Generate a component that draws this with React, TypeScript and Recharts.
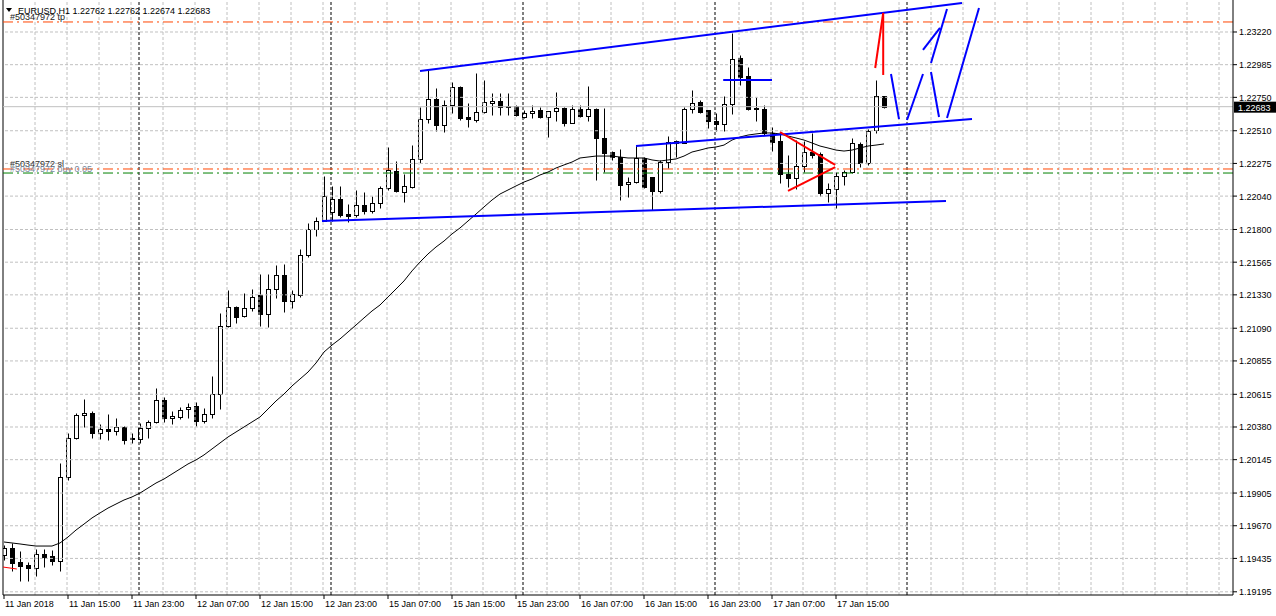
import React from 'react';
import { ComposedChart, Bar, Line, XAxis, YAxis, ReferenceLine } from 'recharts';

// ---- Data (bar 1 = 11 Jan 07:00, bar 111 = 17 Jan 21:00) ----
const opens = [
  1.19460, 1.19510, 1.19409, 1.19388, 1.19366, 1.19467, 1.19452, 1.19416, 1.20020, 1.20301,
  1.20466, 1.20481, 1.20337, 1.20365, 1.20351, 1.20380, 1.20301, 1.20294, 1.20373, 1.20416,
  1.20574, 1.20445, 1.20452, 1.20509, 1.20531, 1.20423, 1.20473, 1.20617, 1.21106, 1.21243,
  1.21178, 1.21235, 1.21329, 1.21192, 1.21372, 1.21473, 1.21286, 1.21329, 1.21617, 1.21803,
  1.21861, 1.21926, 1.22019, 1.21911, 1.21904, 1.21976, 1.21933, 1.21990, 1.22098, 1.22221,
  1.22070, 1.22105, 1.22307, 1.22594, 1.22738, 1.22551, 1.22695, 1.22824, 1.22609, 1.22587,
  1.22645, 1.22709, 1.22724, 1.22688, 1.22688, 1.22609, 1.22638, 1.22659, 1.22609, 1.22652,
  1.22673, 1.22566, 1.22666, 1.22616, 1.22666, 1.22458, 1.22357, 1.22321, 1.22127, 1.22141,
  1.22314, 1.22177, 1.22077, 1.22285, 1.22436, 1.22422, 1.22666, 1.22717, 1.22659, 1.22580,
  1.22558, 1.22702, 1.23033, 1.22904, 1.22673, 1.22666, 1.22494, 1.22436, 1.22199, 1.22170,
  1.22256, 1.22357, 1.22343, 1.22062, 1.22091, 1.22185, 1.22213, 1.22415, 1.22278, 1.22515,
  1.22762,
];
const highs = [
  1.19531, 1.19546, 1.19488, 1.19409, 1.19503, 1.19503, 1.19495, 1.20121, 1.20337, 1.20481,
  1.20581, 1.20495, 1.20401, 1.20473, 1.20445, 1.20387, 1.20337, 1.20409, 1.20430, 1.20660,
  1.20596, 1.20495, 1.20524, 1.20552, 1.20560, 1.20516, 1.20747, 1.21200, 1.21365, 1.21250,
  1.21343, 1.21372, 1.21480, 1.21480, 1.21545, 1.21552, 1.21365, 1.21660, 1.21847, 1.21890,
  1.22185, 1.22113, 1.22113, 1.21983, 1.22084, 1.22070, 1.22041, 1.22113, 1.22393, 1.22292,
  1.22199, 1.22407, 1.22681, 1.22954, 1.22817, 1.22731, 1.22860, 1.22832, 1.22709, 1.22925,
  1.22875, 1.22781, 1.22781, 1.22781, 1.22695, 1.22659, 1.22695, 1.22681, 1.22652, 1.22789,
  1.22681, 1.22695, 1.22695, 1.22832, 1.22673, 1.22673, 1.22364, 1.22379, 1.22177, 1.22407,
  1.22321, 1.22177, 1.22300, 1.22472, 1.22443, 1.22681, 1.22803, 1.22731, 1.22659, 1.22638,
  1.22760, 1.23213, 1.23055, 1.22968, 1.22753, 1.22695, 1.22537, 1.22494, 1.22336, 1.22443,
  1.22436, 1.22494, 1.22357, 1.22134, 1.22213, 1.22228, 1.22458, 1.22429, 1.22522, 1.22875,
  1.22762,
];
const lows = [
  1.19424, 1.19345, 1.19273, 1.19273, 1.19309, 1.19373, 1.19388, 1.19345, 1.19999, 1.20294,
  1.20380, 1.20301, 1.20294, 1.20286, 1.20322, 1.20258, 1.20265, 1.20265, 1.20301, 1.20409,
  1.20416, 1.20401, 1.20437, 1.20445, 1.20387, 1.20409, 1.20445, 1.20509, 1.21099, 1.21128,
  1.21171, 1.21214, 1.21106, 1.21099, 1.21307, 1.21207, 1.21235, 1.21315, 1.21602, 1.21753,
  1.21861, 1.21861, 1.21890, 1.21854, 1.21890, 1.21911, 1.21919, 1.21954, 1.22084, 1.22070,
  1.21998, 1.22098, 1.22278, 1.22566, 1.22508, 1.22501, 1.22638, 1.22587, 1.22537, 1.22573,
  1.22638, 1.22623, 1.22623, 1.22623, 1.22616, 1.22602, 1.22602, 1.22602, 1.22465, 1.22580,
  1.22544, 1.22566, 1.22609, 1.22580, 1.22156, 1.22213, 1.22300, 1.22012, 1.22034, 1.22134,
  1.22098, 1.21940, 1.22062, 1.22242, 1.22321, 1.22422, 1.22638, 1.22638, 1.22530, 1.22508,
  1.22508, 1.22630, 1.22839, 1.22659, 1.22580, 1.22479, 1.22364, 1.22134, 1.22105, 1.22091,
  1.22213, 1.22314, 1.22041, 1.21998, 1.21954, 1.22120, 1.22206, 1.22249, 1.22264, 1.22494,
  1.22674,
];
const closes = [
  1.19510, 1.19402, 1.19380, 1.19366, 1.19467, 1.19445, 1.19416, 1.20020, 1.20301, 1.20466,
  1.20481, 1.20337, 1.20365, 1.20351, 1.20380, 1.20286, 1.20294, 1.20373, 1.20416, 1.20574,
  1.20445, 1.20459, 1.20502, 1.20524, 1.20423, 1.20473, 1.20617, 1.21106, 1.21243, 1.21171,
  1.21235, 1.21315, 1.21192, 1.21372, 1.21473, 1.21286, 1.21336, 1.21617, 1.21803, 1.21861,
  1.22041, 1.22019, 1.21904, 1.21897, 1.21976, 1.21933, 1.21990, 1.22098, 1.22228, 1.22077,
  1.22113, 1.22307, 1.22594, 1.22738, 1.22551, 1.22695, 1.22824, 1.22602, 1.22594, 1.22645,
  1.22717, 1.22724, 1.22681, 1.22681, 1.22623, 1.22638, 1.22652, 1.22609, 1.22652, 1.22673,
  1.22566, 1.22666, 1.22616, 1.22666, 1.22458, 1.22350, 1.22321, 1.22120, 1.22141, 1.22314,
  1.22105, 1.22077, 1.22285, 1.22429, 1.22422, 1.22666, 1.22709, 1.22645, 1.22580, 1.22558,
  1.22702, 1.23026, 1.22896, 1.22666, 1.22666, 1.22494, 1.22429, 1.22199, 1.22170, 1.22256,
  1.22357, 1.22336, 1.22062, 1.22091, 1.22185, 1.22213, 1.22422, 1.22278, 1.22508, 1.22760,
  1.22683,
];
const maValues = [
  1.19553, 1.19546, 1.19539, 1.19531, 1.19524, 1.19524, 1.19524, 1.19546, 1.19589, 1.19639,
  1.19682, 1.19726, 1.19762, 1.19797, 1.19826, 1.19855, 1.19877, 1.19905, 1.19941, 1.19977,
  1.20006, 1.20042, 1.20078, 1.20114, 1.20143, 1.20179, 1.20222, 1.20265, 1.20308, 1.20344,
  1.20380, 1.20416, 1.20452, 1.20509, 1.20567, 1.20617, 1.20675, 1.20725, 1.20775, 1.20840,
  1.20919, 1.20969, 1.21013, 1.21063, 1.21113, 1.21164, 1.21214, 1.21257, 1.21315, 1.21372,
  1.21430, 1.21502, 1.21566, 1.21624, 1.21674, 1.21717, 1.21768, 1.21811, 1.21861, 1.21911,
  1.21962, 1.22012, 1.22055, 1.22084, 1.22113, 1.22141, 1.22163, 1.22192, 1.22213, 1.22242,
  1.22264, 1.22285, 1.22314, 1.22321, 1.22328, 1.22328, 1.22328, 1.22321, 1.22314, 1.22314,
  1.22314, 1.22300, 1.22292, 1.22300, 1.22307, 1.22328, 1.22357, 1.22371, 1.22386, 1.22393,
  1.22407, 1.22443, 1.22465, 1.22479, 1.22487, 1.22494, 1.22494, 1.22487, 1.22472, 1.22458,
  1.22443, 1.22422, 1.22400, 1.22386, 1.22371, 1.22364, 1.22371, 1.22386, 1.22400, 1.22407,
  1.22415,
];

const timeTickBars = [1, 9, 17, 25, 33, 41, 49, 57, 65, 73, 81, 89, 97, 105];
const timeTickLabels = [
  '11 Jan 2018', '11 Jan 15:00', '11 Jan 23:00', '12 Jan 07:00', '12 Jan 15:00',
  '12 Jan 23:00', '15 Jan 07:00', '15 Jan 15:00', '15 Jan 23:00', '16 Jan 07:00',
  '16 Jan 15:00', '16 Jan 23:00', '17 Jan 07:00', '17 Jan 15:00',
];
const priceTicks = [
  1.23220, 1.22985, 1.22750, 1.22510, 1.22275, 1.22040, 1.21800, 1.21565, 1.21330,
  1.21090, 1.20855, 1.20615, 1.20380, 1.20145, 1.19905, 1.19670, 1.19435, 1.19195,
];
const daySeparators = [17.875, 41.875, 65.875, 89.875, 113.875];

const takeProfit = 1.23292;
const stopLoss = 1.22235;
const entryPrice = 1.22206;
const bidPrice = 1.22683;
const headerText = 'EURUSD,H1  1.22762 1.22762 1.22674 1.22683';

// trend lines drawn on the chart: [bar1, price1, bar2, price2]
const blueTrendLines = [
  [53, 1.22940, 120.75, 1.23428],
  [40.75, 1.21861, 118.75, 1.22005],
  [80, 1.22400, 122, 1.22594],
  [90.9, 1.22875, 97, 1.22875],
  [111.875, 1.22918, 112.875, 1.22594],
  [113.875, 1.22587, 115.875, 1.22918],
  [115.875, 1.23091, 118, 1.23249],
  [116.875, 1.22997, 118.875, 1.23385],
  [116.875, 1.22932, 117.875, 1.22609],
  [118.875, 1.22602, 122.875, 1.23392],
];
const redTrendLines = [
  [98, 1.22501, 104.9, 1.22264],
  [99, 1.22077, 104.9, 1.22249],
  [109.9, 1.22961, 110.9, 1.23357],
  [110.9, 1.23357, 110.9, 1.22911],
  [0.875, 1.19373, 2.6, 1.19359],
];

// ---- layout constants ----
const X_MIN = 0.875;
const X_MAX = 154.625;
const Y_MIN = 1.19172;
const Y_MAX = 1.23450;
const FONT = 'Liberation Sans, Arial, sans-serif';

const rows = opens.map((o, i) => ({
  idx: i + 1,
  open: o,
  high: highs[i],
  low: lows[i],
  close: closes[i],
  range: [lows[i], highs[i]],
  ma: maValues[i],
}));

const gridBars: number[] = [];
for (let g = 4.875; g < X_MAX; g += 4) gridBars.push(g);

const Candle = (props: any) => {
  const { x, y, width, height, payload } = props;
  if (!payload) return null;
  const { open, close, high, low } = payload;
  const cx = Math.round(x + width / 2) + 0.5;
  const span = high - low;
  const toY = (v: number) => (span === 0 ? y : y + ((high - v) / span) * height);
  const yh = Math.round(toY(high)) + 0.5;
  const yl = Math.round(toY(low)) + 0.5;
  const yo = Math.round(toY(open)) + 0.5;
  const yc = Math.round(toY(close)) + 0.5;
  const top = Math.min(yo, yc);
  const bot = Math.max(yo, yc);
  const bull = close >= open;
  return (
    <g>
      <line x1={cx} x2={cx} y1={yh} y2={yl} stroke="#000" strokeWidth={1} />
      {bot - top < 1 ? (
        <line x1={cx - 2.5} x2={cx + 2.5} y1={top} y2={top} stroke="#000" strokeWidth={1} />
      ) : (
        <rect x={cx - 2} y={top} width={4} height={bot - top} fill={bull ? '#fff' : '#000'} stroke="#000" strokeWidth={1} />
      )}
    </g>
  );
};

const TimeTick = (props: any) => {
  const { x, y, payload } = props;
  const i = timeTickBars.indexOf(payload.value);
  return (
    <text x={x + 1} y={y} dy={6} fontFamily={FONT} fontSize={9} fill="#000" textAnchor="start">
      {timeTickLabels[i]}
    </text>
  );
};

const PriceTick = (props: any) => {
  const { x, y, payload } = props;
  return (
    <text x={x} y={y} dy={3.5} fontFamily={FONT} fontSize={9} fill="#000" textAnchor="start">
      {payload.value.toFixed(5)}
    </text>
  );
};

const BidLabel = (props: any) => {
  const vb = props.viewBox || {};
  const x = vb.x + vb.width;
  const y = vb.y;
  return (
    <g>
      <rect x={x + 1} y={y - 5} width={43} height={11} fill="#000" />
      <text x={x + 5} y={y + 4} fontFamily={FONT} fontSize={9} fill="#fff">{bidPrice.toFixed(5)}</text>
    </g>
  );
};

const makeOrderLabel = (text: string, color: string) => (props: any) => {
  const vb = props.viewBox || {};
  return (
    <text x={vb.x + 7} y={vb.y - 1.5} fontFamily={FONT} fontSize={9} fill={color}>
      {text}
    </text>
  );
};

export default function App() {
  return (
    <div style={{ position: 'relative', width: 1276, height: 616, background: '#fff' }}>
      <style>{'body{margin:0;background:#fff}'}</style>
      <ComposedChart
        width={1276}
        height={616}
        data={rows}
        margin={{ top: 0, right: 0, bottom: 0, left: 3 }}
      >
        <XAxis
          dataKey="idx"
          type="number"
          domain={[X_MIN, X_MAX]}
          allowDataOverflow
          ticks={timeTickBars}
          interval={0}
          tick={<TimeTick />}
          tickSize={4}
          tickMargin={2}
          tickLine={{ stroke: '#000' }}
          axisLine={{ stroke: '#000' }}
          height={21}
        />
        <YAxis
          orientation="right"
          type="number"
          domain={[Y_MIN, Y_MAX]}
          allowDataOverflow
          ticks={priceTicks}
          interval={0}
          tick={<PriceTick />}
          tickSize={4}
          tickMargin={2}
          tickLine={{ stroke: '#000' }}
          axisLine={{ stroke: '#000' }}
          width={43}
        />
        {priceTicks.map((p) => (
          <ReferenceLine key={'h' + p} y={p} stroke="#c0c0c0" strokeDasharray="3 2" />
        ))}
        {gridBars.map((g) => (
          <ReferenceLine key={'v' + g} x={g} stroke="#c0c0c0" strokeDasharray="3 2" />
        ))}
        {daySeparators.map((d) => (
          <ReferenceLine key={'d' + d} x={d} stroke="#000" strokeDasharray="3 2" />
        ))}
        <ReferenceLine x={X_MIN} stroke="#000" />
        <ReferenceLine y={bidPrice} stroke="#c0c0c0" label={<BidLabel />} />
        <ReferenceLine y={takeProfit} stroke="#ff4500" strokeDasharray="10 4 2 4" label={makeOrderLabel('#50347972 tp', '#222')} />
        <ReferenceLine y={stopLoss} stroke="#ff4500" strokeDasharray="10 4 2 4" label={makeOrderLabel('#50347972 sl', '#333')} />
        <ReferenceLine y={entryPrice} stroke="#008000" strokeDasharray="10 4 2 4" label={makeOrderLabel('#50347972 buy 0.05', '#7a8aa0')} />
        <Line
          dataKey="ma"
          type="linear"
          stroke="#000"
          strokeWidth={1}
          dot={false}
          activeDot={false}
          isAnimationActive={false}
        />
        <Bar dataKey="range" barSize={6} shape={<Candle />} isAnimationActive={false} />
        {blueTrendLines.map((l, i) => (
          <ReferenceLine
            key={'b' + i}
            segment={[{ x: l[0], y: l[1] }, { x: l[2], y: l[3] }]}
            stroke="#0000ff"
            strokeWidth={2}
            ifOverflow="visible"
          />
        ))}
        {redTrendLines.map((l, i) => (
          <ReferenceLine
            key={'r' + i}
            segment={[{ x: l[0], y: l[1] }, { x: l[2], y: l[3] }]}
            stroke="#ff0000"
            strokeWidth={i === 4 ? 1 : 2}
            ifOverflow="visible"
          />
        ))}
      </ComposedChart>
      <svg width={300} height={20} style={{ position: 'absolute', left: 0, top: 0, pointerEvents: 'none' }}>
        <polygon points="6,8 12,8 9,12" fill="#000" />
        <text x={18} y={14} fontFamily={FONT} fontSize={9} fill="#000">{headerText}</text>
      </svg>
    </div>
  );
}
